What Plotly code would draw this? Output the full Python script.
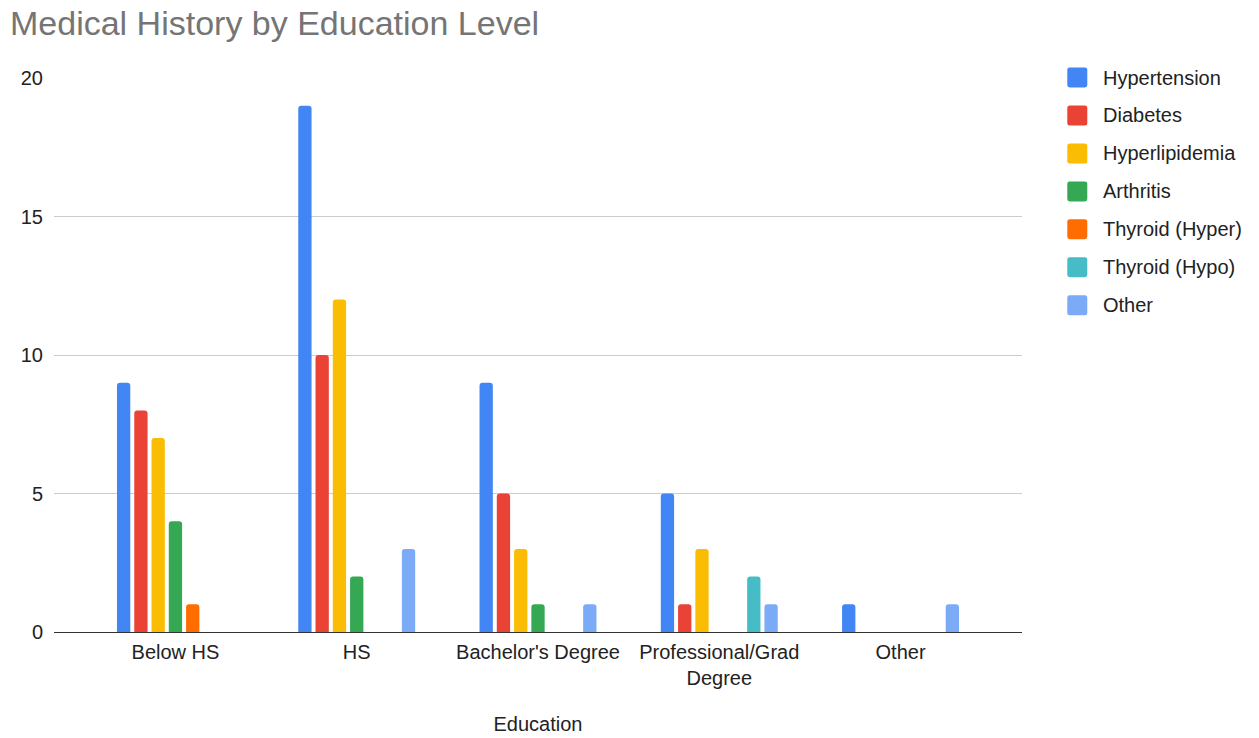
import plotly.graph_objects as go

# Education levels on the x axis
education = ["Below HS", "HS", "Bachelor's Degree", "Professional/Grad<br>Degree", "Other"]

# Counts per condition, one list per series (same order as education)
hypertension = [9, 19, 9, 5, 1]
diabetes = [8, 10, 5, 1, 0]
hyperlipidemia = [7, 12, 3, 3, 0]
arthritis = [4, 2, 1, 0, 0]
thyroid_hyper = [1, 0, 0, 0, 0]
thyroid_hypo = [0, 0, 0, 2, 0]
other = [0, 3, 1, 1, 1]

series_names = ["Hypertension", "Diabetes", "Hyperlipidemia", "Arthritis",
                "Thyroid (Hyper)", "Thyroid (Hypo)", "Other"]
series_values = [hypertension, diabetes, hyperlipidemia, arthritis,
                 thyroid_hyper, thyroid_hypo, other]
series_colors = ["#4285F4", "#EA4335", "#FBBC04", "#34A853",
                 "#FF6D01", "#46BDC6", "#7BAAF7"]

y_ticks = [0, 5, 10, 15, 20]

# Page geometry (pixels)
W, H = 1259, 738
ML, MR, MT, MB = 53.5, 237.3, 78, 105.5
PW, PH = W - ML - MR, H - MT - MB

FONT = "Liberation Sans, Arial, sans-serif"
TEXT = "#222222"


def px_to_paper(x, y):
    return (x - ML) / PW, (H - MB - y) / PH


fig = go.Figure()
for name, vals, col in zip(series_names, series_values, series_colors):
    fig.add_trace(go.Bar(x=education, y=vals, name=name, marker_color=col,
                         marker_line_width=0, showlegend=False))

# Hand-placed legend on the right: rounded swatch + label per series
shapes = []
annotations = []
for i, (name, col) in enumerate(zip(series_names, series_colors)):
    cy = 77.5 + 38.0 * i
    x0, y0 = px_to_paper(1067, cy + 10)
    x1, y1 = px_to_paper(1087, cy - 10)
    r = 2.5 / PW
    ry = 2.5 / PH
    path = (f"M {x0 + r},{y0} L {x1 - r},{y0} Q {x1},{y0} {x1},{y0 + ry} "
            f"L {x1},{y1 - ry} Q {x1},{y1} {x1 - r},{y1} L {x0 + r},{y1} "
            f"Q {x0},{y1} {x0},{y1 - ry} L {x0},{y0 + ry} Q {x0},{y0} {x0 + r},{y0} Z")
    shapes.append(dict(type="path", xref="paper", yref="paper", path=path,
                       fillcolor=col, line=dict(width=0)))
    tx, ty = px_to_paper(1101, cy)
    annotations.append(dict(xref="paper", yref="paper", x=tx, y=ty,
                            xanchor="left", yanchor="middle", showarrow=False,
                            text=name, font=dict(family=FONT, size=20, color=TEXT)))

fig.update_layout(
    width=W, height=H,
    margin=dict(l=ML, r=MR, t=MT, b=MB, pad=0),
    paper_bgcolor="white", plot_bgcolor="white",
    barmode="group", bargap=0.333, bargroupgap=0.23, barcornerradius=3,
    title=dict(text="Medical History by Education Level",
               font=dict(family=FONT, size=34, color="#757575"),
               x=10 / W, xanchor="left", xref="container",
               y=1 - 23 / H, yanchor="middle", yref="container"),
    xaxis=dict(range=[-0.67, 4.67], showgrid=False, showline=False,
               ticks="", ticklabelstandoff=6,
               tickfont=dict(family=FONT, size=20, color=TEXT),
               title=dict(text="Education", standoff=28,
                          font=dict(family=FONT, size=20, color=TEXT)),
               automargin=False),
    yaxis=dict(range=[0, 20], tickvals=y_ticks, showgrid=True,
               gridcolor="#cccccc", gridwidth=1, zeroline=True,
               zerolinecolor="#333333", zerolinewidth=1.3, showline=False,
               ticks="", ticklabelstandoff=10,
               tickfont=dict(family=FONT, size=20, color=TEXT),
               automargin=False),
    shapes=shapes,
    annotations=annotations,
    showlegend=False,
)

fig.write_html("out.html")
